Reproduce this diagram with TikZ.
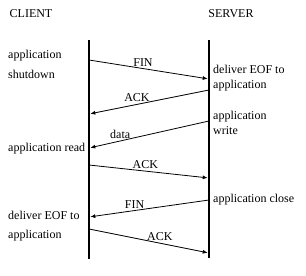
\documentclass[tikz,border=0pt]{standalone}
\usepackage{fontspec}
\setmainfont{Liberation Serif}
\usetikzlibrary{arrows.meta,positioning}

\begin{document}
\begin{tikzpicture}[x=1pt,y=-1pt,
          lbl/.style={font=\fontsize{12}{15}\selectfont,inner sep=0pt,
                      anchor=west,align=left},
          head/.style={font=\fontsize{12}{14}\selectfont,inner sep=0pt},
          timeline/.style={line width=2.4pt},
          msg/.style={line width=0.8pt,shorten >=1.3pt,
                      -{Latex[length=5pt,width=4pt]}},
          tag/.style={font=\fontsize{12}{14}\selectfont,above,inner sep=2pt}]
        \useasboundingbox (0,0) rectangle (306,276);
        % hosts
        \node[head] (client) at (31,14) {CLIENT};
        \node[head] (server) at (231,14) {SERVER};
        \coordinate (ctop) at (89,40);
        \coordinate (cbot) at (89,259);
        \coordinate (stop) at (209,40);
        \coordinate (sbot) at (209,258);
        \draw[timeline] (ctop) -- (cbot);
        \draw[timeline] (stop) -- (sbot);
        % message end points
        \coordinate (c1) at (89,60);  \coordinate (s1) at (209,79);
        \coordinate (s2) at (209,90); \coordinate (c2) at (89,114);
        \coordinate (s3) at (209,121);\coordinate (c3) at (89,148);
        \coordinate (c4) at (89,165); \coordinate (s4) at (209,178);
        \coordinate (s5) at (209,200);\coordinate (c5) at (89,217);
        \coordinate (c6) at (89,229); \coordinate (s6) at (209,253);
        % messages
        \draw[msg] (c1) -- node[tag,pos=0.45] {FIN} (s1);
        \draw[msg] (s2) -- node[tag,pos=0.6] {ACK} (c2);
        \draw[msg] (s3) -- node[tag,pos=0.74] {data} (c3);
        \draw[msg] (c4) -- node[tag,pos=0.47] {ACK} (s4);
        \draw[msg] (s5) -- node[tag,pos=0.62] {FIN} (c5);
        \draw[msg] (c6) -- node[tag,pos=0.59] {ACK} (s6);
        % client side
        \node[lbl] (cshut) at (8,64) {application\\[5pt]shutdown};
        \node[lbl] (cread) at (8,149) {application read};
        \node[lbl] (ceof) at (8,226) {deliver EOF to\\[4pt]application};
        % server side
        \node[lbl] (seof) at (213,78) {deliver EOF to\\application};
        \node[lbl] (swrite) at (213,123) {application\\write};
        \node[lbl] (sclose) at (213,200) {application close};
      \end{tikzpicture}
\end{document}
